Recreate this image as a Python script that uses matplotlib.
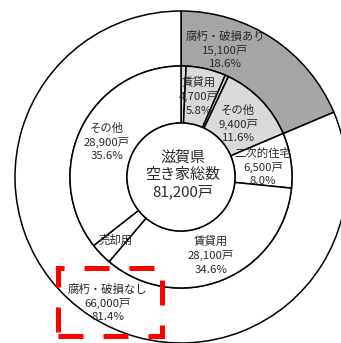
import matplotlib
matplotlib.use("Agg")
import matplotlib.pyplot as plt
from matplotlib.patches import Rectangle

plt.rcParams['font.family'] = ['Noto Sans CJK JP', 'DejaVu Sans']

# 外側: 腐朽・破損の有無
outer_labels = ['腐朽・破損あり', '腐朽・破損なし']
outer_values = [15100, 66000]
outer_pct = [18.6, 81.4]
outer_colors = ['#a6a6a6', 'white']

# 内側: 種類別 (腐朽あり分 -> 腐朽なし分)
inner_labels = ['二次的住宅', '賃貸用', '売却用', 'その他', '二次的住宅', '賃貸用', '売却用', 'その他']
inner_values = [600, 4700, 400, 9400, 6500, 28100, 2600, 28900]
inner_pct = [0.7, 5.8, 0.5, 11.6, 8.0, 34.6, 3.2, 35.6]
inner_colors = ['#d9d9d9'] * 4 + ['white'] * 4

total_label = '滋賀県\n空き家総数\n81,200戸'

W, H = 341, 343
cx, cy = 181, H - 177
r_out, r_mid, r_in = 166, 111, 54

fig = plt.figure(figsize=(W / 100, H / 100), dpi=100)
ax = fig.add_axes([0, 0, 1, 1])

wp = dict(edgecolor='black', linewidth=1.1)
ax.pie(outer_values, colors=outer_colors, startangle=90, counterclock=False,
       center=(cx, cy), radius=r_out, wedgeprops=dict(width=r_out - r_mid, **wp))
ax.pie(inner_values, colors=inner_colors, startangle=90, counterclock=False,
       center=(cx, cy), radius=r_mid, wedgeprops=dict(width=r_mid - r_in, **wp))
circle = plt.Circle((cx, cy), r_in, facecolor='white', edgecolor='black', linewidth=1.1)
ax.add_patch(circle)
ax.set_xlim(0, W)
ax.set_ylim(0, H)
ax.set_aspect('equal')
ax.axis('off')

txt = dict(ha='center', va='center', fontsize=8.2, color='#2a2a2a', linespacing=1.4)

def lab(i, labels, values, pct, x, y, full=True):
    if full:
        s = f"{labels[i]}\n{values[i]:,}戸\n{pct[i]}%"
    else:
        s = labels[i]
    ax.text(x, H - y, s, **txt)

lab(0, outer_labels, outer_values, outer_pct, 225, 50)
lab(1, outer_labels, outer_values, outer_pct, 108, 303)
lab(1, inner_labels, inner_values, inner_pct, 199, 96)
lab(3, inner_labels, inner_values, inner_pct, 238, 124)
lab(4, inner_labels, inner_values, inner_pct, 263, 167)
lab(5, inner_labels, inner_values, inner_pct, 211, 255)
lab(6, inner_labels, inner_values, inner_pct, 116, 240, full=False)
lab(7, inner_labels, inner_values, inner_pct, 107, 142)

ax.text(183, H - 175, total_label, ha='center', va='center', fontsize=10.8,
        color='#2a2a2a', linespacing=1.25)

# 強調枠
rect = Rectangle((58, H - 336), 104, 68, fill=False, edgecolor='red',
                 linewidth=3.6, linestyle=(0, (5, 4)))
ax.add_patch(rect)

fig.savefig('out.png', dpi=100)
